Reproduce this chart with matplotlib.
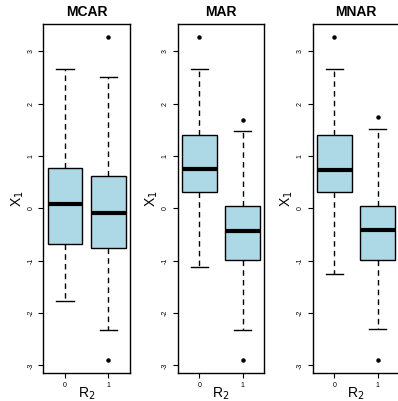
import matplotlib
matplotlib.use('Agg')
import matplotlib.pyplot as plt

plt.rcParams['font.family'] = ['Liberation Sans', 'DejaVu Sans']

titles = ['MCAR', 'MAR', 'MNAR']
groups = ['0', '1']

# per panel, per group: lower whisker, q1, median, q3, upper whisker, outliers
whislo = [[-1.77, -2.33], [-1.12, -2.33], [-1.26, -2.31]]
q1 = [[-0.69, -0.76], [0.31, -0.99], [0.32, -0.99]]
med = [[0.08, -0.08], [0.76, -0.43], [0.73, -0.41]]
q3 = [[0.78, 0.62], [1.40, 0.05], [1.40, 0.05]]
whishi = [[2.66, 2.52], [2.66, 1.47], [2.66, 1.52]]
fliers = [[[], [3.27, -2.90]], [[3.27], [1.69, -2.90]], [[3.27], [1.75, -2.90]]]

fig = plt.figure(figsize=(3.98, 4.01), dpi=100)
lefts = [0.109, 0.4465, 0.7856]

for i in range(3):
    ax = fig.add_axes([lefts[i], 0.0706, 0.218, 0.869])
    stats = []
    for j in range(2):
        stats.append(dict(whislo=whislo[i][j], q1=q1[i][j], med=med[i][j],
                          q3=q3[i][j], whishi=whishi[i][j], fliers=fliers[i][j]))
    ax.bxp(stats, positions=[1, 2], widths=0.8, capwidths=0.4, patch_artist=True,
           boxprops=dict(facecolor='#ADD8E6', edgecolor='black', linewidth=1.0),
           medianprops=dict(color='black', linewidth=3.0, solid_capstyle='butt'),
           whiskerprops=dict(color='black', linestyle=(0, (4, 3)), linewidth=1.0),
           capprops=dict(color='black', linewidth=1.0),
           flierprops=dict(marker='o', markersize=2.2, markerfacecolor='black',
                           markeredgecolor='black'))
    ax.set_xlim(0.5, 2.5)
    ax.set_ylim(-3.14, 3.52)
    ax.set_xticks([1, 2])
    ax.set_xticklabels(groups, fontsize=5)
    ax.set_yticks([-3, -2, -1, 0, 1, 2, 3])
    ax.set_yticklabels(['-3', '-2', '-1', '0', '1', '2', '3'], fontsize=5,
                       rotation=90, va='center')
    ax.tick_params(length=3.5, width=0.8, pad=3)
    for s in ax.spines.values():
        s.set_linewidth(1.0)
    ax.set_title(titles[i], fontsize=10, fontweight='bold', pad=6)
    ax.set_xlabel('R$_2$', fontsize=10, labelpad=-2.5)
    ax.set_ylabel('X$_1$', fontsize=10, labelpad=1)

fig.savefig('out.png', dpi=100)
